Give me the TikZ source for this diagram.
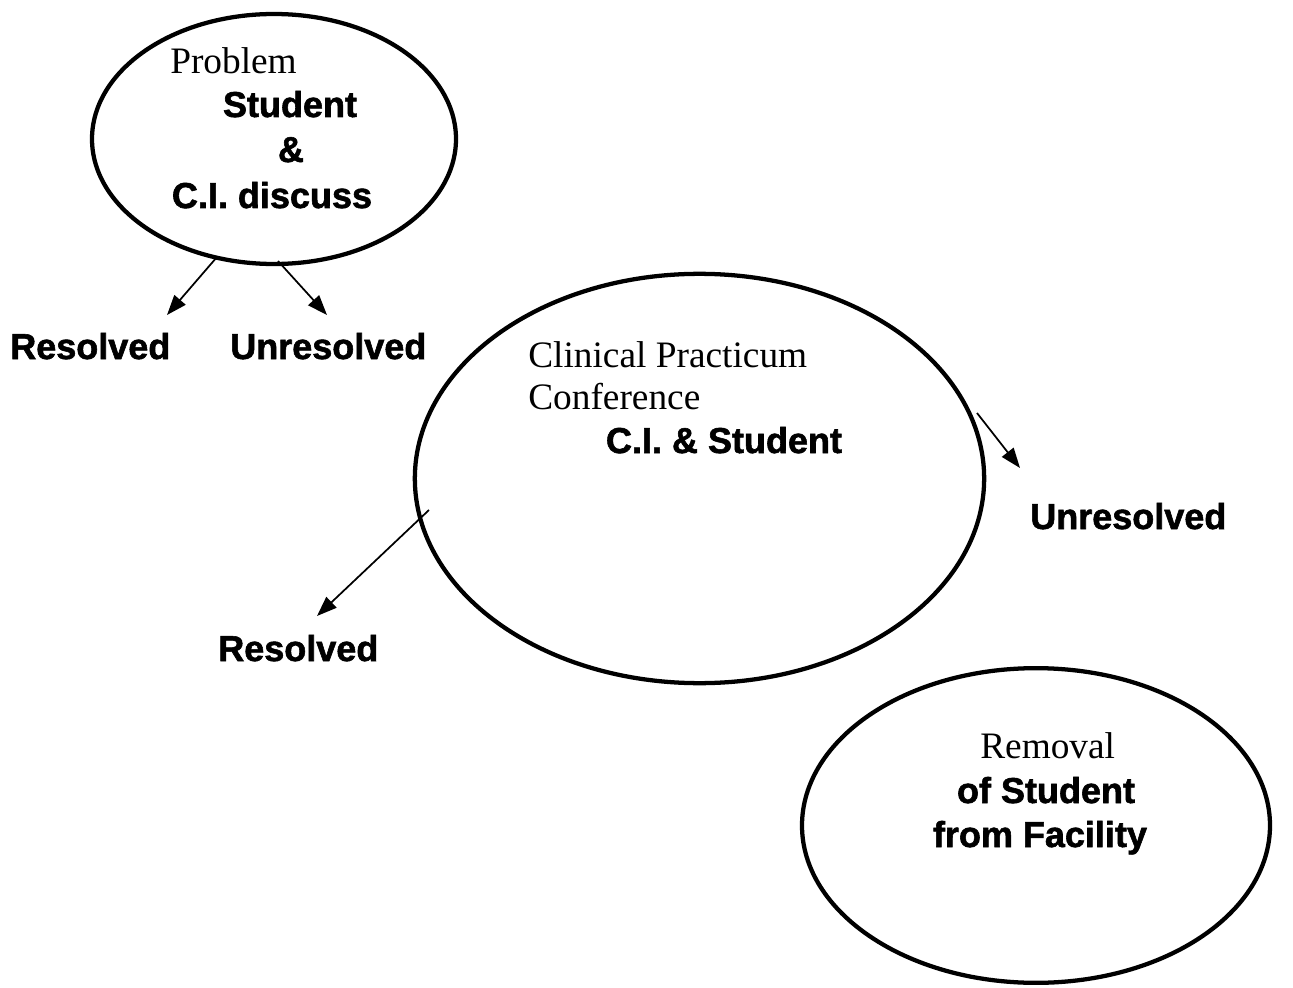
\documentclass[tikz,border=0pt]{standalone}
\usepackage{fontspec}
\setmainfont{Liberation Serif}
\newfontfamily\bsf{Liberation Sans Bold}[FakeBold=1.6]
\usetikzlibrary{shapes.geometric,arrows.meta}
\begin{document}
\begin{tikzpicture}[x=0.75pt,y=-0.75pt,
  bubble/.style={draw,ellipse,line width=3.2pt,inner sep=0pt},
  serif/.style={font=\fontsize{28}{32}\selectfont,inner sep=0pt},
  bold/.style={font=\bsf\fontsize{27}{32}\selectfont,inner sep=0pt},
  arr/.style={line width=1.3pt,-{Triangle[length=15pt,width=11pt]}}]
\useasboundingbox (0,0) rectangle (1293,988);
% ellipses
\node[bubble,minimum width=273pt,minimum height=187.5pt] (e1) at (274,139) {};
\node[bubble,minimum width=427pt,minimum height=307pt] (e2) at (699.5,478.5) {};
\node[bubble,minimum width=351pt,minimum height=236pt] (e3) at (1036,825.5) {};
% texts in ellipse 1
\node[serif,anchor=base west] (t1) at (170,74) {Problem};
\node[bold,anchor=base] (t2) at (290,117) {Student};
\node[bold,anchor=base] (t3) at (291,162) {\&};
\node[bold,anchor=base] (t4) at (272,208) {C.I. discuss};
% outcomes of ellipse 1
\node[bold,anchor=base west] (r1) at (10,359) {Resolved};
\node[bold,anchor=base west] (u1) at (230,359) {Unresolved};
% ellipse 2
\node[serif,anchor=base west] (c1) at (528,367) {Clinical Practicum};
\node[serif,anchor=base west] (c2) at (528,409) {Conference};
\node[bold,anchor=base] (c3) at (724,453) {C.I. \& Student};
\node[bold,anchor=base west] (u2) at (1030,529) {Unresolved};
\node[bold,anchor=base west] (r2) at (218,661) {Resolved};
% ellipse 3
\node[serif,anchor=base west] (m1) at (980,758) {Removal};
\node[bold,anchor=base] (m2) at (1046,803) {of Student};
\node[bold,anchor=base] (m3) at (1040,847) {from Facility};
% arrow ends
\coordinate (a1s) at (217,257);
\coordinate (a1e) at (167,315);
\coordinate (a2s) at (278,261);
\coordinate (a2e) at (327,315);
\coordinate (a3s) at (977,413);
\coordinate (a3e) at (1020,468);
\coordinate (a4s) at (429,510);
\coordinate (a4e) at (317,616);
\draw[arr] (a1s) -- (a1e);
\draw[arr] (a2s) -- (a2e);
\draw[arr] (a3s) -- (a3e);
\draw[arr] (a4s) -- (a4e);
\end{tikzpicture}
\end{document}
